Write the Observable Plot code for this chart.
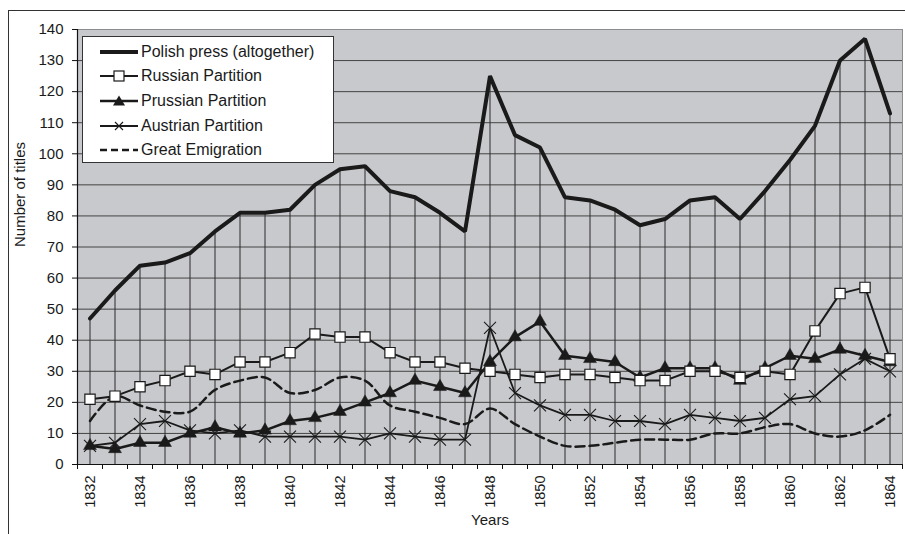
<!DOCTYPE html>
<html><head><meta charset="utf-8">
<script src="https://cdn.jsdelivr.net/npm/d3@7"></script>
<script src="https://cdn.jsdelivr.net/npm/@observablehq/plot@0.6"></script>
<style>
body{margin:0;background:#fff;font-family:"Liberation Sans",Arial,sans-serif;}
#wrap{position:relative;width:905px;height:534px;overflow:hidden;}
#outer{position:absolute;left:8px;top:10px;width:905px;height:530px;border-top:1px solid #333;border-left:1px solid #333;}
#chart{position:absolute;left:0;top:0;}
#legend{position:absolute;left:82px;top:36px;width:252px;height:127px;background:#fff;border:1px solid #333;box-sizing:border-box;}
.row{position:absolute;left:17px;height:20px;display:flex;align-items:center;font-size:16px;color:#1a1a1a;white-space:nowrap}
.row svg{margin-right:3px}
</style></head><body>
<div id="wrap"><div id="outer"></div><div id="chart"></div><div id="legend"></div></div>
<script>
const years = [1832,1833,1834,1835,1836,1837,1838,1839,1840,1841,1842,1843,1844,1845,1846,1847,1848,1849,1850,1851,1852,1853,1854,1855,1856,1857,1858,1859,1860,1861,1862,1863,1864];
const polish =    [47,56,64,65,68,75,81,81,82,90,95,96,88,86,81,75,125,106,102,86,85,82,77,79,85,86,79,88,98,109,130,137,113];
const russian =   [21,22,25,27,30,29,33,33,36,42,41,41,36,33,33,31,30,29,28,29,29,28,27,27,30,30,28,30,29,43,55,57,34];
const prussian =  [6,5,7,7,10,12,10,11,14,15,17,20,23,27,25,23,33,41,46,35,34,33,28,31,31,31,27,31,35,34,37,35,33];
const austrian =  [6,7,13,14,11,10,11,9,9,9,9,8,10,9,8,8,44,23,19,16,16,14,14,13,16,15,14,15,21,22,29,34,30];
const emigration =[14,22,19,17,17,24,27,28,23,24,28,27,19,17,15,13,18,13,9,6,6,7,8,8,8,10,10,12,13,10,9,11,16];
const yTicks = [0,10,20,30,40,50,60,70,80,90,100,110,120,130,140];
const xLabels = [1832,1834,1836,1838,1840,1842,1844,1846,1848,1850,1852,1854,1856,1858,1860,1862,1864];
const seriesNames = ["Polish press (altogether)","Russian Partition","Prussian Partition","Austrian Partition","Great Emigration"];

const rows = (vals) => years.map((year, i) => ({year, value: vals[i]}));
const dPolish = rows(polish), dRussian = rows(russian), dPrussian = rows(prussian), dAustrian = rows(austrian), dEmig = rows(emigration);
const boundaries = years.map(y => y - 0.5).concat([years[years.length-1] + 0.5]);
const ink = "#1a1a1a";

const chart = Plot.plot({
  width: 905, height: 534,
  marginLeft: 77, marginRight: 3, marginTop: 29, marginBottom: 70,
  style: {fontFamily: "'Liberation Sans', Arial, sans-serif", fontSize: "15px", color: ink, background: "transparent", overflow: "visible"},
  x: {domain: [boundaries[0], boundaries[boundaries.length-1]]},
  y: {domain: [0, 140]},
  marks: [
    Plot.frame({fill: "#c8c9cc"}),
    Plot.ruleY(yTicks.filter(d => d > 0 && d < 140), {stroke: "#444", strokeWidth: 1}),
    Plot.ruleX(dPolish, {x: "year", y1: 0, y2: "value", stroke: "#2a2a2a", strokeWidth: 1}),
    Plot.line(dEmig, {x: "year", y: "value", stroke: ink, strokeWidth: 2.5, strokeDasharray: "9,5", curve: "catmull-rom"}),
    Plot.line(dAustrian, {x: "year", y: "value", stroke: ink, strokeWidth: 1.8}),
    Plot.dot(dAustrian, {x: "year", y: "value", symbol: "times", r: 5.5, stroke: ink, strokeWidth: 1.1}),
    Plot.line(dPrussian, {x: "year", y: "value", stroke: ink, strokeWidth: 2.5}),
    Plot.dot(dPrussian, {x: "year", y: "value", symbol: "triangle", r: 4.8, fill: ink, stroke: ink, strokeWidth: 0.5}),
    Plot.line(dRussian, {x: "year", y: "value", stroke: ink, strokeWidth: 2}),
    Plot.dot(dRussian, {x: "year", y: "value", symbol: "square", r: 5.8, fill: "#ffffff", stroke: ink, strokeWidth: 1.2}),
    Plot.line(dPolish, {x: "year", y: "value", stroke: ink, strokeWidth: 4, strokeLinejoin: "miter"}),
    Plot.frame({stroke: "#8c8c8c"}),
    Plot.ruleY([0], {stroke: "#111", strokeWidth: 1.2}),
    Plot.ruleX([boundaries[0]], {stroke: "#111", strokeWidth: 1.2}),
    Plot.axisY({ticks: yTicks, tickSize: 5, tickPadding: 9, label: null, fontSize: 15, stroke: "#111"}),
    Plot.axisX({ticks: xLabels, tickSize: 0, tickRotate: -90, tickPadding: 11, label: null, fontSize: 14.5, tickFormat: d => String(d)}),
    Plot.axisX({ticks: boundaries, tickSize: 5, tickFormat: () => "", label: null, stroke: "#111"}),
    Plot.text(["Years"], {text: d => d, frameAnchor: "bottom", dy: 60, fontSize: 15, fill: ink}),
    Plot.text(["Number of titles"], {text: d => d, frameAnchor: "left", rotate: -90, dx: -57, fontSize: 15, fill: ink})
  ]
});
document.getElementById("chart").appendChild(chart);

// Legend (HTML overlay)
const legend = document.getElementById("legend");
const tops = [5, 29, 54, 79, 103];
const samples = [
  `<line x1="0" y1="10" x2="38" y2="10" stroke="${ink}" stroke-width="4"/>`,
  `<line x1="0" y1="10" x2="38" y2="10" stroke="${ink}" stroke-width="2"/><rect x="14" y="5" width="10" height="10" fill="#fff" stroke="${ink}" stroke-width="1.2"/>`,
  `<line x1="0" y1="10" x2="38" y2="10" stroke="${ink}" stroke-width="2.5"/><path d="M19,4.5 L25,14.5 L13,14.5 Z" fill="${ink}"/>`,
  `<line x1="0" y1="10" x2="38" y2="10" stroke="${ink}" stroke-width="1.8"/><path d="M15,6 L23,14 M23,6 L15,14" stroke="${ink}" stroke-width="1.1"/>`,
  `<line x1="0" y1="10" x2="38" y2="10" stroke="${ink}" stroke-width="2.5" stroke-dasharray="7,4"/>`
];
seriesNames.forEach((name, i) => {
  const r = document.createElement("div");
  r.className = "row";
  r.style.top = tops[i] + "px";
  r.innerHTML = `<svg width="38" height="20">${samples[i]}</svg><span>${name}</span>`;
  legend.appendChild(r);
});
</script>
</body></html>
